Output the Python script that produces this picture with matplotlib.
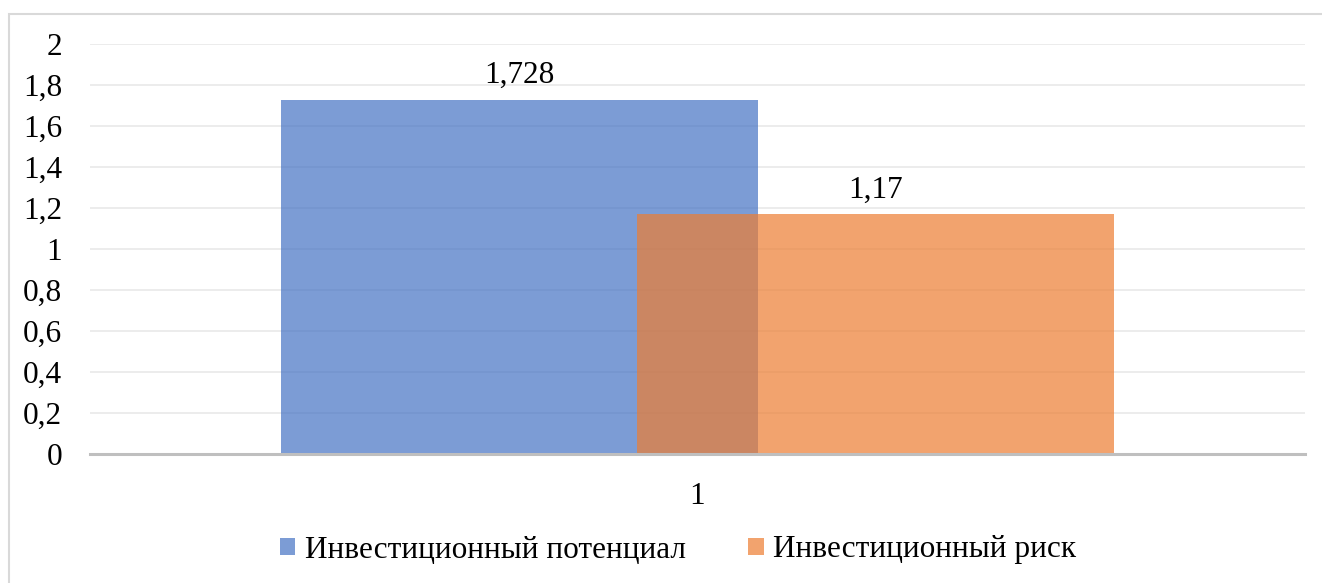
import matplotlib
matplotlib.use("Agg")
import matplotlib.pyplot as plt
from matplotlib.patches import Rectangle, Patch

plt.rcParams['font.family'] = ['Liberation Serif', 'DejaVu Serif']

categories = ["1"]
series_names = ["Инвестиционный потенциал", "Инвестиционный риск"]
potential = [1.728]
risk = [1.17]
value_labels = [["1,728"], ["1,17"]]
yticks = [0, 0.2, 0.4, 0.6, 0.8, 1.0, 1.2, 1.4, 1.6, 1.8, 2.0]
ytick_labels = ["0", "0,2", "0,4", "0,6", "0,8", "1", "1,2", "1,4", "1,6", "1,8", "2"]

colors = ["#4472C4", "#ED7D31"]
alpha = 0.7
W, H = 1322, 583
FS = 22.5

fig = plt.figure(figsize=(W / 100, H / 100), dpi=100)
fig.patch.set_facecolor("white")

# outer chart frame
fig.patches.append(Rectangle((9 / W, -0.05), 1.05, (H - 14) / H + 0.05,
                             transform=fig.transFigure, fill=False,
                             edgecolor="#D9D9D9", linewidth=1.5, zorder=0))

ax = fig.add_axes([90 / W, 129 / H, 1215 / W, 410 / H])
ax.set_xlim(-0.5, 0.5)
ax.set_ylim(0, 2)

bar_w = 0.3926
offset = 0.1469
xs = range(len(categories))
for i, (vals, labels) in enumerate(zip([potential, risk], value_labels)):
    pos = [x + (-offset if i == 0 else offset) for x in xs]
    bars = ax.bar(pos, vals, width=bar_w, color=colors[i], alpha=alpha,
                  zorder=3 + i, linewidth=0)
    for b, lab in zip(bars, labels):
        ax.annotate(lab, (b.get_x() + b.get_width() / 2, b.get_height()),
                    xytext=(0, 7), textcoords="offset points",
                    ha="center", va="bottom", fontsize=FS)

ax.set_yticks(yticks)
ax.set_yticklabels(ytick_labels, fontsize=FS)
ax.set_xticks(list(xs))
ax.set_xticklabels(categories, fontsize=FS)
ax.tick_params(axis="both", length=0)
ax.tick_params(axis="y", pad=20)
ax.tick_params(axis="x", pad=20)
for lab in ax.get_yticklabels():
    lab.set_horizontalalignment("right")

ax.grid(axis="y", color="#EBEBEB", linewidth=1.3, zorder=0)
ax.set_axisbelow(True)
for s in ["top", "right", "left"]:
    ax.spines[s].set_visible(False)
ax.spines["bottom"].set_color("#BFBFBF")
ax.spines["bottom"].set_linewidth(2.2)
ax.spines["bottom"].set_zorder(6)

handles = [Patch(facecolor=c, alpha=alpha, edgecolor="none") for c in colors]
fig.legend(handles, series_names, loc="center", bbox_to_anchor=(678 / W, (H - 550) / H),
           ncol=2, frameon=False, fontsize=FS, handlelength=0.5, handleheight=0.5,
           handletextpad=0.3, columnspacing=2.0)

fig.savefig("out.png", dpi=100, facecolor="white")
